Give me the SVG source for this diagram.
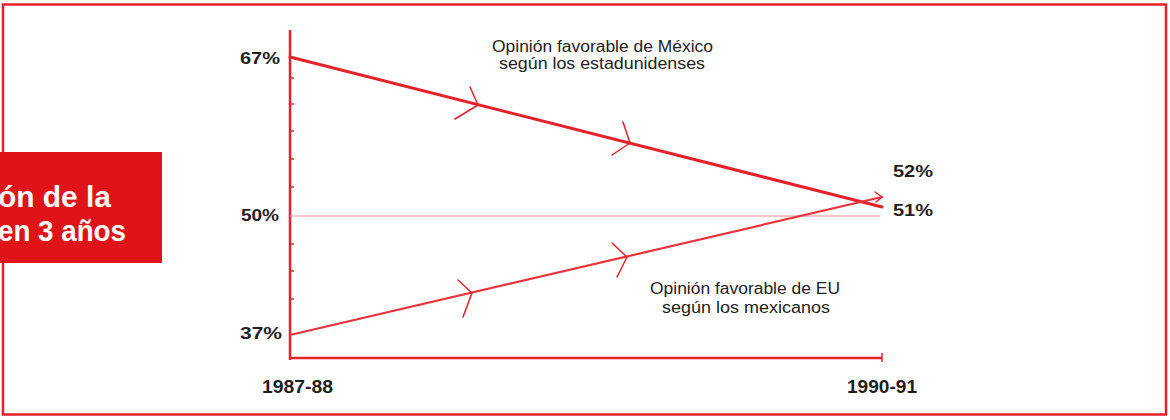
<svg xmlns="http://www.w3.org/2000/svg" width="1170" height="420" viewBox="0 0 1170 420">
<style>
.lbl{font-family:"Liberation Sans",Arial,sans-serif;font-size:16px;fill:#222222}
.pct{font-family:"Liberation Sans",Arial,sans-serif;font-size:16px;font-weight:bold;fill:#1e1e1e}
.yr{font-family:"Liberation Sans",Arial,sans-serif;font-size:18px;font-weight:bold;fill:#1e1e1e}
.ttl{font-family:"Liberation Sans",Arial,sans-serif;font-size:30px;font-weight:bold;fill:#ffffff}
.ax{stroke:#e3222a;stroke-width:2.5;fill:none}
.tick{stroke:#e3222a;stroke-width:1.5}
.ln1{stroke:#e3222a;stroke-width:3;fill:none;stroke-linecap:round}
.ln2{stroke:#e5343b;stroke-width:2.2;fill:none;stroke-linecap:round}
.chev{stroke:#e3222a;stroke-width:1.5;fill:none;stroke-linecap:round;stroke-linejoin:round}
</style>
<rect x="0" y="0" width="1170" height="420" fill="#ffffff"/>
<g id="frame">
<rect x="3" y="4.5" width="1163" height="410" fill="none" stroke="#e3222a" stroke-width="2.5"/>
</g>
<g id="title-box">
<rect x="0" y="152" width="162" height="111" fill="#e01319"/>
<text class="ttl" x="111" y="207" text-anchor="end" textLength="113" lengthAdjust="spacingAndGlyphs">ón de la</text>
<text class="ttl" x="126" y="241" text-anchor="end" textLength="128" lengthAdjust="spacingAndGlyphs">en 3 años</text>
</g>
<g id="axes">
<line class="ax" x1="290" y1="30" x2="290" y2="360"/>
<line class="ax" x1="290" y1="358" x2="882" y2="358"/>
<line class="tick" x1="882" y1="353" x2="882" y2="362" stroke-width="2.5"/>
<line x1="290" y1="216" x2="880" y2="216" stroke="#f08a8e" stroke-width="1"/>
<g class="tick">
<line x1="290" y1="78" x2="294" y2="78"/>
<line x1="290" y1="104" x2="294" y2="104"/>
<line x1="290" y1="131" x2="294" y2="131"/>
<line x1="290" y1="159" x2="294" y2="159"/>
<line x1="290" y1="187" x2="294" y2="187"/>
<line x1="290" y1="244" x2="294" y2="244"/>
<line x1="290" y1="271" x2="294" y2="271"/>
<line x1="290" y1="299" x2="294" y2="299"/>
</g>
</g>
<g id="connectors">
<line class="ln1" x1="290" y1="57" x2="882" y2="207"/>
<line class="ln2" x1="290" y1="335" x2="882" y2="197"/>
<path class="chev" d="M470,87 L478,105 L455,119"/>
<path class="chev" d="M623,122 L630,143 L612,155"/>
<path class="chev" d="M458,280 L472,293 L463,317"/>
<path class="chev" d="M612,243 L627,257 L617,277"/>
<path class="chev" d="M875,192 L882,197 L876,202"/>
</g>
<g id="labels-y">
<text class="pct" x="280" y="64" text-anchor="end" textLength="40" lengthAdjust="spacingAndGlyphs">67%</text>
<text class="pct" x="279" y="221" text-anchor="end" textLength="38" lengthAdjust="spacingAndGlyphs">50%</text>
<text class="pct" x="282" y="339" text-anchor="end" textLength="42" lengthAdjust="spacingAndGlyphs">37%</text>
<text class="pct" x="893" y="177" textLength="40" lengthAdjust="spacingAndGlyphs">52%</text>
<text class="pct" x="893" y="216" textLength="40" lengthAdjust="spacingAndGlyphs">51%</text>
</g>
<g id="labels-x">
<text class="yr" x="262" y="393" textLength="71" lengthAdjust="spacingAndGlyphs">1987-88</text>
<text class="yr" x="847" y="393" textLength="70" lengthAdjust="spacingAndGlyphs">1990-91</text>
</g>
<g id="series-mexico">
<text class="lbl" x="492" y="52" textLength="221" lengthAdjust="spacingAndGlyphs">Opinión favorable de México</text>
<text class="lbl" x="499" y="69" textLength="206" lengthAdjust="spacingAndGlyphs">según los estadunidenses</text>
</g>
<g id="series-eu">
<text class="lbl" x="650" y="294" textLength="190" lengthAdjust="spacingAndGlyphs">Opinión favorable de EU</text>
<text class="lbl" x="662" y="313" textLength="168" lengthAdjust="spacingAndGlyphs">según los mexicanos</text>
</g>
</svg>
